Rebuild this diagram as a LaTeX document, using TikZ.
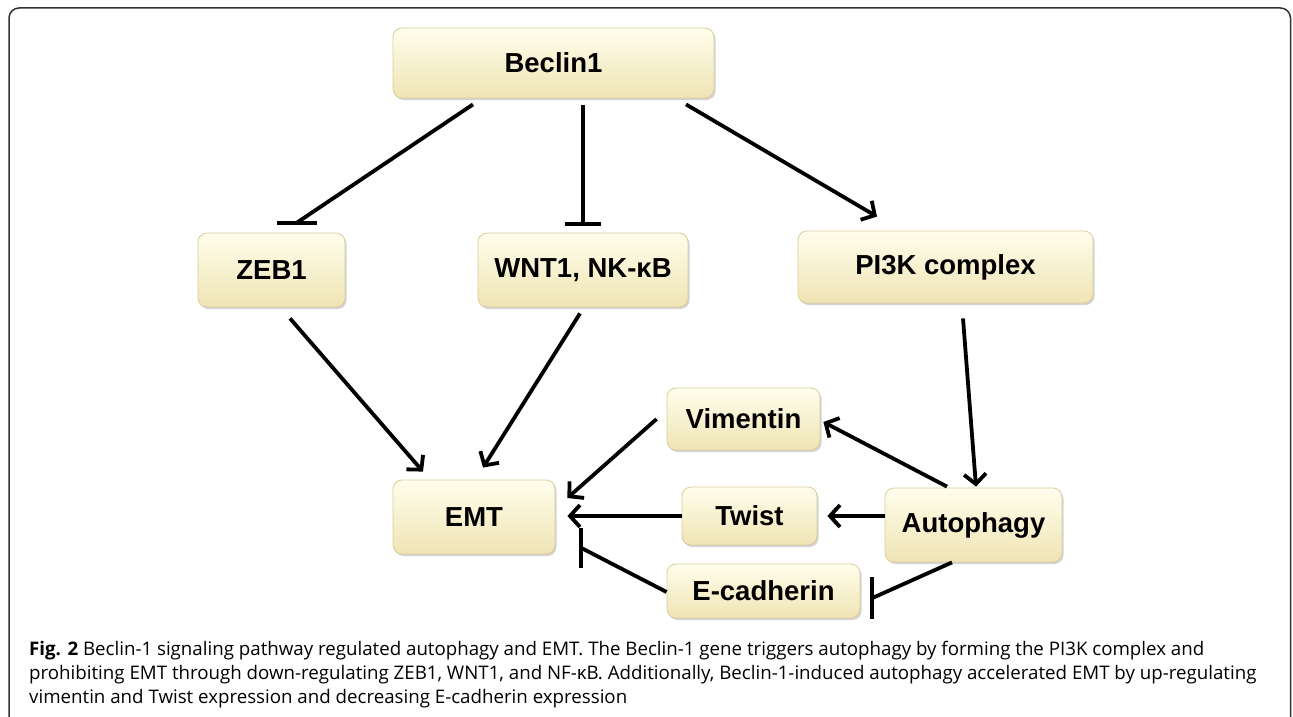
\documentclass[tikz,border=0pt]{standalone}
\usepackage{fontspec}
\setmainfont{Liberation Sans}
\newfontfamily\capfont{Open Sans}
\usetikzlibrary{arrows.meta,shadows}

\definecolor{boxtop}{HTML}{FFFEEC}
\definecolor{boxmid}{HTML}{FFFBD8}
\definecolor{boxbot}{HTML}{EFE4B4}
\definecolor{boxline}{HTML}{D9CD9C}

\begin{document}
\begin{tikzpicture}[x=1pt, y=-1pt,
  >={Straight Barb[length=10pt,width=22pt]},
  box/.style={rounded corners=9pt, draw=boxline, line width=0.8pt,
              top color=boxtop, middle color=boxmid, bottom color=boxbot,
              drop shadow={shadow xshift=1.5pt, shadow yshift=-2pt, opacity=0.35},
              font=\fontsize{27.5}{30}\selectfont\bfseries, inner sep=0pt},
  link/.style={line width=3.8pt, ->},
  blunt/.style={line width=3.8pt},
  bar/.style={line width=4pt},
  caption/.style={font=\capfont\fontsize{18.7}{24}\selectfont, align=left, inner sep=0pt},
]
\useasboundingbox (0,0) rectangle (1293,717);

% === frame ===
\draw[line width=1.5pt, black!80, rounded corners=10pt]
  (9,720) -- (9,8) -- (1290.5,8) -- (1290.5,720);

% === boxes ===
\node[box, minimum width=321pt, minimum height=70pt] (beclin) at (553.5,63) {Beclin1};
\node[box, minimum width=147pt, minimum height=74pt] (zeb) at (271.5,270) {ZEB1};
\node[box, minimum width=210pt, minimum height=74pt] (wnt) at (583,270) {WNT1, NK-κB};
\node[box, minimum width=295pt, minimum height=72pt] (pik) at (945.5,267) {PI3K complex};
\node[box, minimum width=162pt, minimum height=74pt] (emt) at (474,517) {EMT};
\node[box, minimum width=153pt, minimum height=62pt] (vim) at (743.5,419) {Vimentin};
\node[box, minimum width=135pt, minimum height=58pt] (twist) at (749.5,516) {Twist};
\node[box, minimum width=177pt, minimum height=74pt] (auto) at (973.5,525) {Autophagy};
\node[box, minimum width=193pt, minimum height=54pt] (ecad) at (763.5,591) {E-cadherin};

% === inhibition ends ===
\coordinate (zebbar) at ([xshift=25.5pt,yshift=10pt]zeb.north);
\coordinate (wntbar) at ([yshift=9pt]wnt.north);
\coordinate (ecadbar) at ([xshift=12pt,yshift=-7pt]ecad.east);
\coordinate (emtbar) at ([xshift=26pt,yshift=-31pt]emt.east);

% === Beclin1 ===
\draw[blunt] ([xshift=-80.5pt,yshift=-6pt]beclin.south) -- (zebbar);
\draw[bar] ([xshift=-20pt]zebbar) -- ([xshift=20pt]zebbar);
\draw[blunt] ([xshift=29.5pt,yshift=-7pt]beclin.south) -- (wntbar);
\draw[bar] ([xshift=-18pt]wntbar) -- ([xshift=18pt]wntbar);
\draw[link] ([xshift=132.5pt,yshift=-6pt]beclin.south) -- ([xshift=-68.5pt,yshift=14pt]pik.north);

% === to EMT ===
\draw[link] ([xshift=18.5pt,yshift=-11pt]zeb.south) -- ([xshift=-51pt,yshift=8pt]emt.north);
\draw[link] ([xshift=-3pt,yshift=-6pt]wnt.south) -- ([xshift=9pt,yshift=12pt]emt.north);
\draw[link] ([xshift=-10pt]vim.west) -- ([xshift=12pt,yshift=19pt]emt.east);
\draw[link] (twist.west) -- ([xshift=12pt,yshift=1pt]emt.east);
\draw[blunt] ([yshift=-1pt]ecad.west) -- (emtbar);
\draw[bar] ([yshift=20pt]emtbar) -- ([yshift=-20pt]emtbar);

% === Autophagy ===
\draw[link] ([xshift=17.5pt,yshift=-15pt]pik.south) -- ([xshift=2.5pt,yshift=1pt]auto.north);
\draw[link] ([xshift=-26.5pt,yshift=1pt]auto.north) -- ([xshift=3pt,yshift=-3pt]vim.east);
\draw[link] ([yshift=9pt]auto.west) -- ([xshift=10pt]twist.east);
\draw[blunt] ([xshift=-21.5pt]auto.south) -- (ecadbar);
\draw[bar] ([yshift=21pt]ecadbar) -- ([yshift=-21pt]ecadbar);

% === caption ===
\node[caption, anchor=base west] (cap) at (29,703)
  {\textbf{Fig. 2} Beclin-1 signaling pathway regulated autophagy and EMT. The Beclin-1 gene triggers autophagy by forming the PI3K complex and\\
   prohibiting EMT through down-regulating ZEB1, WNT1, and NF-κB. Additionally, Beclin-1-induced autophagy accelerated EMT by up-regulating\\
   vimentin and Twist expression and decreasing E-cadherin expression};

\end{tikzpicture}
\end{document}
